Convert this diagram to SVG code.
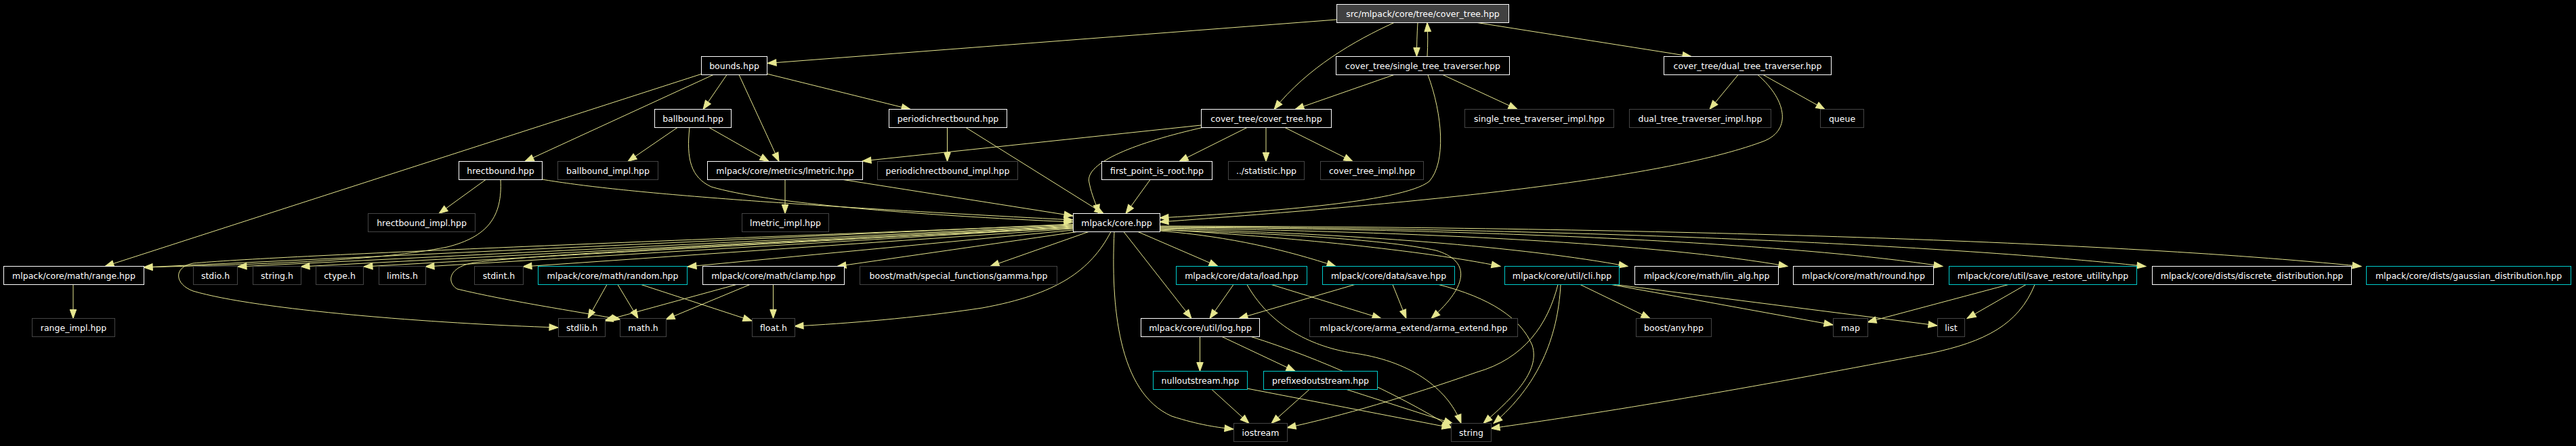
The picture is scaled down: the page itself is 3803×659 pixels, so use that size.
<svg xmlns="http://www.w3.org/2000/svg" width="3803" height="659" viewBox="0 0 3803 659">
<style>
.node rect{fill:#000;stroke:#ffffff;stroke-width:1}
.node.ext rect{stroke:#444444}
.node.tr rect{stroke:#00cccc}
.node.root rect{fill:#404040}
.node text{font-family:"DejaVu Sans","Liberation Sans",sans-serif;font-size:12.5px;fill:#ffffff;text-anchor:middle}
#edges path{fill:none;stroke:#e6e68f;stroke-width:1;marker-end:url(#ah)}
</style>
<defs>
<marker id="ah" markerWidth="14" markerHeight="11" refX="13" refY="4.75" orient="auto" markerUnits="userSpaceOnUse" overflow="visible">
<path d="M0,0 L13,4.75 L0,9.5 z" fill="#e6e68f" stroke="#e6e68f" stroke-width="1"/>
</marker>
</defs>
<rect x="0" y="0" width="3803" height="659" fill="#000"/>
<g id="edges">
<path d="M1973,29 L1133,93.5"/>
<path d="M2093,33.5 C2092,50 2091.5,66 2091.5,83.5"/>
<path d="M2107,83.5 C2108,66 2108,50 2107,33.5"/>
<path d="M2181,33.5 L2497,83.5"/>
<path d="M2058,33.5 C2000,60 1930,100 1881,161.5"/>
<path d="M2058,110.5 L1912,161.5"/>
<path d="M2130,110.5 L2240,161.5"/>
<path d="M2108,110.5 C2130,170 2135,240 2110,268 C2070,300 1850,314 1712,322"/>
<path d="M2566,110.5 L2524,161.5"/>
<path d="M2603,110.5 L2694,161.5"/>
<path d="M2595,110.5 C2640,150 2645,195 2600,210 C2450,265 2100,300 1712,328"/>
<path d="M1073,110.5 L1038,161.5"/>
<path d="M1091,110.5 L1150,238.5"/>
<path d="M1132,109 L1344,161.5"/>
<path d="M1053,110.5 L775,238.5"/>
<path d="M1035,109.5 L155,393.5"/>
<path d="M1000,188.5 L927,238.5"/>
<path d="M1047,188.5 L1135,238.5"/>
<path d="M1018,188.5 C1013,235 1020,262 1050,276 C1130,300 1350,318 1584,328"/>
<path d="M1398.5,188.5 L1398.5,238.5"/>
<path d="M1426,188.5 L1629,315.5"/>
<path d="M1773,185 L1273,238"/>
<path d="M1841,188.5 L1741,238.5"/>
<path d="M1869,188.5 L1869,238.5"/>
<path d="M1897,188.5 L1997,238.5"/>
<path d="M1775,188.5 C1680,210 1600,240 1608,270 C1612,290 1618,300 1622,315.5"/>
<path d="M1698,265.5 L1662,315.5"/>
<path d="M1159,265.5 L1159,315.5"/>
<path d="M1245,265.5 L1584,319"/>
<path d="M717,265.5 L648,315.5"/>
<path d="M800,265 C900,282 1100,300 1584,325"/>
<path d="M739,265.5 C742,320 720,350 660,365 C560,385 400,390 212,395"/>
<path d="M1584,331 L212,395"/>
<path d="M1584,332 C1000,355 400,378 285,389 C255,395 258,420 285,430 C380,458 640,478 824,484"/>
<path d="M1584,333 L351,394"/>
<path d="M1584,334 L444,394"/>
<path d="M1584,335 L537,394"/>
<path d="M1584,336 L628,394"/>
<path d="M1584,337 C1200,355 800,375 700,388 C660,395 660,418 675,427 C750,445 850,460 916,472"/>
<path d="M1584,338 L772,394"/>
<path d="M1584,340 L1015,394"/>
<path d="M1590,342.5 L1236,393.5"/>
<path d="M1607,342.5 L1462,393.5"/>
<path d="M1640,342.5 C1610,400 1560,435 1450,455 C1350,470 1250,478 1173,482"/>
<path d="M1645,342.5 C1640,450 1650,580 1730,615 C1770,628 1800,632 1821,634"/>
<path d="M1659,342.5 L1759,470.5"/>
<path d="M1680,342.5 L1798,393.5"/>
<path d="M1712,340 C1900,345 2050,355 2120,370 C2170,385 2170,420 2113,470.5"/>
<path d="M1712,341 C1820,350 1900,370 1972,393.5"/>
<path d="M1712,339 C1900,350 2100,370 2215,393.5"/>
<path d="M1712,338 C2000,345 2250,365 2403,393.5"/>
<path d="M1712,337 C2100,342 2450,360 2639,393.5"/>
<path d="M1712,336 C2200,338 2650,360 2868,393.5"/>
<path d="M1712,335 C2300,337 2850,360 3168,393.5"/>
<path d="M1712,334 C2400,335 3100,355 3486,393.5"/>
<path d="M1821,420.5 L1786,470.5"/>
<path d="M1877,420.5 L2039,470.5"/>
<path d="M1841,420.5 C1880,490 1950,515 2000,522 C2090,535 2140,580 2157,625.5"/>
<path d="M2000,420.5 L1829,470.5"/>
<path d="M2056,420.5 L2076,470.5"/>
<path d="M2124,420.5 C2200,440 2245,470 2262,510 C2275,550 2230,590 2190,625.5"/>
<path d="M2304,420.5 C2300,500 2270,570 2205,625.5"/>
<path d="M2300,420.5 C2285,480 2250,530 2180,550 C2080,585 1980,615 1900,632"/>
<path d="M2333,420.5 L2436,470.5"/>
<path d="M2379,420.5 L2706,480"/>
<path d="M2385,420.5 L2860,481"/>
<path d="M2965,420.5 L2757,476"/>
<path d="M2991,420.5 L2904,470.5"/>
<path d="M3004,420.5 C2980,480 2930,505 2850,522 C2600,570 2400,605 2201,633"/>
<path d="M1771.5,497.5 L1771.5,548.5"/>
<path d="M1804,497.5 L1912,548.5"/>
<path d="M1847,497.5 C1950,530 2060,580 2142,631"/>
<path d="M1789,575.5 L1844,625.5"/>
<path d="M1841,574 L2142,632"/>
<path d="M1933,575.5 L1877,625.5"/>
<path d="M1988,575.5 L2145,626"/>
<path d="M896,420.5 L868,470.5"/>
<path d="M912,420.5 L942,470.5"/>
<path d="M945,420 L1110,474"/>
<path d="M1087,420.5 L892,474"/>
<path d="M1107,420.5 L983,472"/>
<path d="M1141.5,420.5 L1141.5,470.5"/>
<path d="M108,420.5 L108,470.5"/>
</g>
<g id="n-root" class="node root"><rect x="1973.5" y="6.5" width="254" height="27"/><text x="2100.5" y="24.5">src/mlpack/core/tree/cover_tree.hpp</text></g>
<g id="n-bounds" class="node"><rect x="1035.5" y="83.5" width="97" height="27"/><text x="1084" y="101.5">bounds.hpp</text></g>
<g id="n-single" class="node"><rect x="1972.5" y="83.5" width="256" height="27"/><text x="2100.5" y="101.5">cover_tree/single_tree_traverser.hpp</text></g>
<g id="n-dual" class="node"><rect x="2456.5" y="83.5" width="247" height="27"/><text x="2580" y="101.5">cover_tree/dual_tree_traverser.hpp</text></g>
<g id="n-ballbound" class="node"><rect x="966.5" y="161.5" width="113" height="27"/><text x="1023" y="179.5">ballbound.hpp</text></g>
<g id="n-periodic" class="node"><rect x="1312.5" y="161.5" width="174" height="27"/><text x="1399.5" y="179.5">periodichrectbound.hpp</text></g>
<g id="n-covertree" class="node"><rect x="1773.5" y="161.5" width="192" height="27"/><text x="1869.5" y="179.5">cover_tree/cover_tree.hpp</text></g>
<g id="n-single-impl" class="node ext"><rect x="2162.5" y="161.5" width="220" height="27"/><text x="2272.5" y="179.5">single_tree_traverser_impl.hpp</text></g>
<g id="n-dual-impl" class="node ext"><rect x="2405.5" y="161.5" width="209" height="27"/><text x="2510" y="179.5">dual_tree_traverser_impl.hpp</text></g>
<g id="n-queue" class="node ext"><rect x="2687.5" y="161.5" width="64" height="27"/><text x="2719.5" y="179.5">queue</text></g>
<g id="n-hrect" class="node"><rect x="677.5" y="238.5" width="123" height="27"/><text x="739" y="256.5">hrectbound.hpp</text></g>
<g id="n-ballbound-impl" class="node ext"><rect x="823.5" y="238.5" width="148" height="27"/><text x="897.5" y="256.5">ballbound_impl.hpp</text></g>
<g id="n-lmetric" class="node"><rect x="1044.5" y="238.5" width="229" height="27"/><text x="1159" y="256.5">mlpack/core/metrics/lmetric.hpp</text></g>
<g id="n-periodic-impl" class="node ext"><rect x="1295.5" y="238.5" width="207" height="27"/><text x="1399" y="256.5">periodichrectbound_impl.hpp</text></g>
<g id="n-first" class="node"><rect x="1626.5" y="238.5" width="163" height="27"/><text x="1708" y="256.5">first_point_is_root.hpp</text></g>
<g id="n-statistic" class="node ext"><rect x="1813.5" y="238.5" width="112" height="27"/><text x="1869.5" y="256.5">../statistic.hpp</text></g>
<g id="n-ct-impl" class="node ext"><rect x="1949.5" y="238.5" width="152" height="27"/><text x="2025.5" y="256.5">cover_tree_impl.hpp</text></g>
<g id="n-hrect-impl" class="node ext"><rect x="543.5" y="315.5" width="158" height="27"/><text x="622.5" y="333.5">hrectbound_impl.hpp</text></g>
<g id="n-lmetric-impl" class="node ext"><rect x="1095.5" y="315.5" width="128" height="27"/><text x="1159.5" y="333.5">lmetric_impl.hpp</text></g>
<g id="n-core" class="node"><rect x="1584.5" y="315.5" width="128" height="27"/><text x="1648.5" y="333.5">mlpack/core.hpp</text></g>
<g id="n-range" class="node"><rect x="5.5" y="393.5" width="207" height="27"/><text x="109" y="411.5">mlpack/core/math/range.hpp</text></g>
<g id="n-stdio" class="node ext"><rect x="285.5" y="393.5" width="65" height="27"/><text x="318" y="411.5">stdio.h</text></g>
<g id="n-stringh" class="node ext"><rect x="373.5" y="393.5" width="71" height="27"/><text x="409" y="411.5">string.h</text></g>
<g id="n-ctype" class="node ext"><rect x="466.5" y="393.5" width="70" height="27"/><text x="501.5" y="411.5">ctype.h</text></g>
<g id="n-limits" class="node ext"><rect x="559.5" y="393.5" width="69" height="27"/><text x="594" y="411.5">limits.h</text></g>
<g id="n-stdint" class="node ext"><rect x="700.5" y="393.5" width="72" height="27"/><text x="736.5" y="411.5">stdint.h</text></g>
<g id="n-random" class="node tr"><rect x="794.5" y="393.5" width="220" height="27"/><text x="904.5" y="411.5">mlpack/core/math/random.hpp</text></g>
<g id="n-clamp" class="node"><rect x="1037.5" y="393.5" width="209" height="27"/><text x="1142" y="411.5">mlpack/core/math/clamp.hpp</text></g>
<g id="n-gamma" class="node ext"><rect x="1269.5" y="393.5" width="291" height="27"/><text x="1415" y="411.5">boost/math/special_functions/gamma.hpp</text></g>
<g id="n-load" class="node tr"><rect x="1736.5" y="393.5" width="193" height="27"/><text x="1833" y="411.5">mlpack/core/data/load.hpp</text></g>
<g id="n-save" class="node tr"><rect x="1952.5" y="393.5" width="195" height="27"/><text x="2050" y="411.5">mlpack/core/data/save.hpp</text></g>
<g id="n-cli" class="node tr"><rect x="2221.5" y="393.5" width="169" height="27"/><text x="2306" y="411.5">mlpack/core/util/cli.hpp</text></g>
<g id="n-linalg" class="node"><rect x="2413.5" y="393.5" width="212" height="27"/><text x="2519.5" y="411.5">mlpack/core/math/lin_alg.hpp</text></g>
<g id="n-round" class="node"><rect x="2647.5" y="393.5" width="207" height="27"/><text x="2751" y="411.5">mlpack/core/math/round.hpp</text></g>
<g id="n-saverestore" class="node tr"><rect x="2877.5" y="393.5" width="277" height="27"/><text x="3016" y="411.5">mlpack/core/util/save_restore_utility.hpp</text></g>
<g id="n-discrete" class="node"><rect x="3177.5" y="393.5" width="294" height="27"/><text x="3324.5" y="411.5">mlpack/core/dists/discrete_distribution.hpp</text></g>
<g id="n-gaussian" class="node tr"><rect x="3493.5" y="393.5" width="302" height="27"/><text x="3644.5" y="411.5">mlpack/core/dists/gaussian_distribution.hpp</text></g>
<g id="n-range-impl" class="node ext"><rect x="47.5" y="470.5" width="122" height="27"/><text x="108.5" y="488.5">range_impl.hpp</text></g>
<g id="n-stdlib" class="node ext"><rect x="824.5" y="470.5" width="69" height="27"/><text x="859" y="488.5">stdlib.h</text></g>
<g id="n-math" class="node ext"><rect x="915.5" y="470.5" width="68" height="27"/><text x="949.5" y="488.5">math.h</text></g>
<g id="n-float" class="node ext"><rect x="1110.5" y="470.5" width="63" height="27"/><text x="1142" y="488.5">float.h</text></g>
<g id="n-log" class="node"><rect x="1684.5" y="470.5" width="175" height="27"/><text x="1772" y="488.5">mlpack/core/util/log.hpp</text></g>
<g id="n-arma" class="node ext"><rect x="1933.5" y="470.5" width="307" height="27"/><text x="2087" y="488.5">mlpack/core/arma_extend/arma_extend.hpp</text></g>
<g id="n-any" class="node ext"><rect x="2415.5" y="470.5" width="111" height="27"/><text x="2471" y="488.5">boost/any.hpp</text></g>
<g id="n-map" class="node ext"><rect x="2706.5" y="470.5" width="51" height="27"/><text x="2732" y="488.5">map</text></g>
<g id="n-list" class="node ext"><rect x="2860.5" y="470.5" width="40" height="27"/><text x="2880.5" y="488.5">list</text></g>
<g id="n-nullout" class="node tr"><rect x="1702.5" y="548.5" width="139" height="27"/><text x="1772" y="566.5">nulloutstream.hpp</text></g>
<g id="n-prefixed" class="node tr"><rect x="1865.5" y="548.5" width="168" height="27"/><text x="1949.5" y="566.5">prefixedoutstream.hpp</text></g>
<g id="n-iostream" class="node ext"><rect x="1821.5" y="625.5" width="79" height="27"/><text x="1861" y="643.5">iostream</text></g>
<g id="n-string" class="node ext"><rect x="2142.5" y="625.5" width="59" height="27"/><text x="2172" y="643.5">string</text></g>
</svg>
